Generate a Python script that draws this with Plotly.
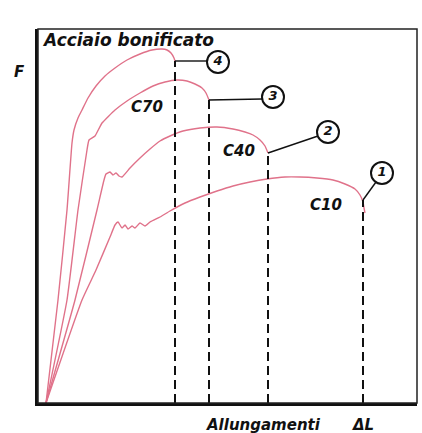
import plotly.graph_objects as go

# Elongation (ΔL) and force (F) readings for each curve, arbitrary units
bonif_dl = [8, 20, 29, 34, 36, 40, 44, 50, 58, 67, 77, 89, 102, 114, 124, 129, 133, 136, 137]
bonif_f = [0, 103, 193, 260, 273, 285, 293, 305, 317, 327, 335, 343, 349, 353, 354, 353, 350, 345, 342]

c70_dl = [8, 29, 40, 49, 51, 57, 64, 77, 89, 102, 115, 127, 139, 149, 157, 164, 168, 171]
c70_f = [0, 103, 193, 253, 263, 267, 280, 293, 302, 310, 317, 321, 323, 322, 319, 315, 310, 303]

c40_dl = [8, 37, 59, 66, 68, 72, 75, 78, 81, 84, 92, 102, 112, 122, 132, 145, 162, 179, 195, 207, 215, 222, 227, 230]
c40_f = [0, 103, 193, 223, 229, 231, 228, 230, 227, 226, 235, 245, 254, 262, 267, 272, 275, 276, 274, 271, 268, 263, 257, 250]

c10_dl = [8, 44, 58, 72, 77, 80, 84, 87, 90, 94, 97, 102, 107, 112, 122, 132, 147, 162, 179, 195,
          212, 229, 247, 262, 279, 295, 307, 317, 322, 325, 326, 327]
c10_f = [0, 103, 133, 166, 178, 181, 175, 178, 174, 177, 175, 180, 177, 181, 186, 192, 200, 206, 212, 217,
         221, 224, 226, 226, 225, 223, 219, 214, 208, 201, 195, 190]

# Rupture elongations (dashed lines) and the force level where each ends
rupture_dl = [325, 230, 171, 137]
rupture_f = [203, 250, 303, 342]
rupture_ids = ["1", "2", "3", "4"]

# Callout circles (numbered) positions
callout_dl = [344, 290, 235, 180]
callout_f = [230, 271, 306, 341]
leader_end_dl = [338, 280, 224, 169]
leader_end_f = [221, 267, 304, 342]

# Curve labels
label_text = ["C70", "C40", "C10"]
label_dl = [109, 201, 288]
label_f = [295, 251, 197]

PINK = "#e0728a"
FONT = "DejaVu Sans"

fig = go.Figure()

for dl, f in [(bonif_dl, bonif_f), (c70_dl, c70_f), (c40_dl, c40_f), (c10_dl, c10_f)]:
    fig.add_trace(go.Scatter(x=dl, y=f, mode="lines",
                             line=dict(color=PINK, width=1.4, shape="spline", smoothing=0.4),
                             hoverinfo="skip", showlegend=False))

for xd, yt in zip(rupture_dl, rupture_f):
    fig.add_trace(go.Scatter(x=[xd, xd], y=[0, yt], mode="lines",
                             line=dict(color="#111", width=2, dash="9px,5px"),
                             hoverinfo="skip", showlegend=False))

for xd, yt, xe, ye in zip(rupture_dl, rupture_f, leader_end_dl, leader_end_f):
    fig.add_trace(go.Scatter(x=[xd, xe], y=[yt, ye], mode="lines",
                             line=dict(color="#111", width=1.4),
                             hoverinfo="skip", showlegend=False))

fig.add_trace(go.Scatter(x=callout_dl, y=callout_f, mode="markers+text",
                         text=rupture_ids, textposition="middle center",
                         textfont=dict(family=FONT, size=13, color="#111", style="italic", weight="bold"),
                         marker=dict(size=22, color="white", line=dict(color="#111", width=2)),
                         hoverinfo="skip", showlegend=False))

fig.add_trace(go.Scatter(x=label_dl, y=label_f, mode="text", text=label_text,
                         textposition="middle center",
                         textfont=dict(family=FONT, size=15, color="#111", style="italic", weight="bold"),
                         hoverinfo="skip", showlegend=False))

ann_font = dict(family=FONT, size=15, color="#111", style="italic", weight="bold")
fig.add_annotation(x=2, y=363, xref="x", yref="y", text="Acciaio bonificato", showarrow=False,
                   xanchor="left", yanchor="middle", font=dict(ann_font, size=17))
fig.add_annotation(x=-0.05, y=0.885, xref="paper", yref="paper", text="F", showarrow=False,
                   xanchor="center", yanchor="middle", font=ann_font)
fig.add_annotation(x=0.594, y=-0.059, xref="paper", yref="paper", text="Allungamenti", showarrow=False,
                   xanchor="center", yanchor="middle", font=ann_font)
fig.add_annotation(x=0.858, y=-0.059, xref="paper", yref="paper", text="ΔL", showarrow=False,
                   xanchor="center", yanchor="middle", font=ann_font)

fig.add_shape(type="rect", xref="paper", yref="paper", x0=0, x1=1, y0=0, y1=1,
              line=dict(color="#222", width=1.5), layer="above")

axis_common = dict(showgrid=False, zeroline=False, showticklabels=False, ticks="",
                   showline=True, linecolor="#111", linewidth=3)
fig.update_xaxes(range=[0, 379], **axis_common)
fig.update_yaxes(range=[0, 374], **axis_common)

fig.update_layout(width=422, height=433, margin=dict(l=38, r=5, t=29, b=30),
                  plot_bgcolor="white", paper_bgcolor="white")

fig.write_html("out.html", config={"displayModeBar": False, "staticPlot": True},
               post_script="document.body.style.margin='0';")
